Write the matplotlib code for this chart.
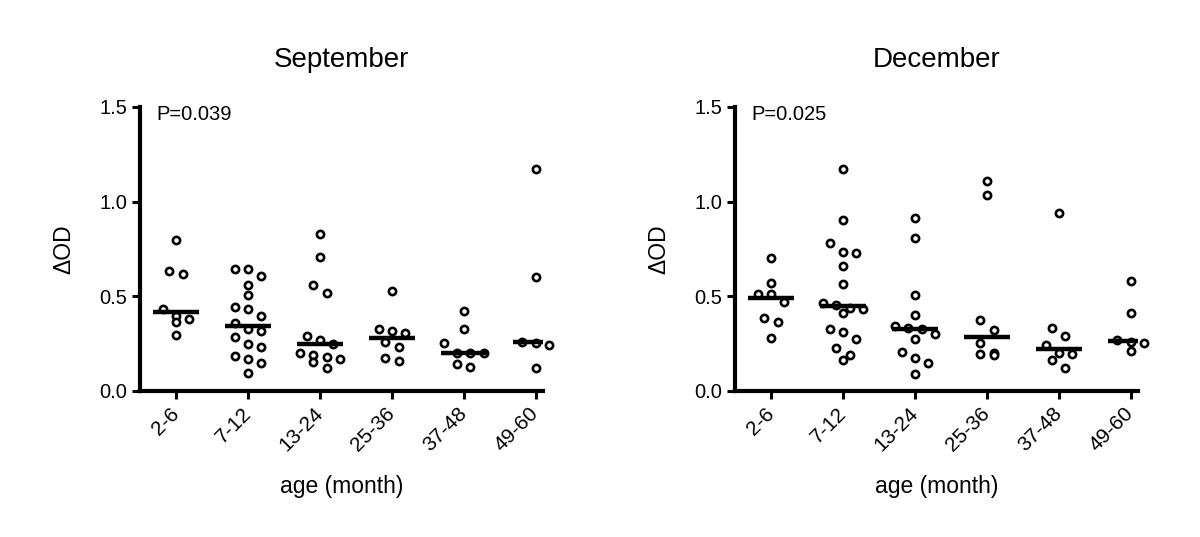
import matplotlib
matplotlib.use("Agg")
from matplotlib import pyplot as plt

import numpy as np

plt.rcParams['font.family'] = ['Liberation Sans', 'DejaVu Sans']

groups = ['2-6', '7-12', '13-24', '25-36', '37-48', '49-60']

# September, delta OD per age group
sep_2_6 = [0.80, 0.635, 0.62, 0.435, 0.395, 0.38, 0.365, 0.295]
sep_7_12 = [0.645, 0.645, 0.605, 0.56, 0.505, 0.445, 0.435, 0.395, 0.36,
            0.325, 0.315, 0.285, 0.25, 0.23, 0.185, 0.17, 0.15, 0.095]
sep_13_24 = [0.83, 0.71, 0.56, 0.515, 0.29, 0.27, 0.247, 0.20, 0.19, 0.18,
             0.17, 0.155, 0.12]
sep_25_36 = [0.53, 0.33, 0.315, 0.305, 0.26, 0.23, 0.175, 0.16]
sep_37_48 = [0.42, 0.33, 0.255, 0.20, 0.20, 0.20, 0.145, 0.125]
sep_49_60 = [1.17, 0.60, 0.26, 0.255, 0.245, 0.12]

# December
dec_2_6 = [0.70, 0.57, 0.51, 0.51, 0.47, 0.385, 0.365, 0.28]
dec_7_12 = [1.17, 0.905, 0.78, 0.735, 0.73, 0.66, 0.565, 0.465, 0.455, 0.44,
            0.435, 0.41, 0.33, 0.31, 0.275, 0.225, 0.19, 0.165]
dec_13_24 = [0.915, 0.81, 0.505, 0.40, 0.345, 0.335, 0.328, 0.30, 0.275,
             0.205, 0.175, 0.15, 0.09]
dec_25_36 = [1.11, 1.035, 0.375, 0.32, 0.255, 0.20, 0.195, 0.19]
dec_37_48 = [0.94, 0.335, 0.29, 0.245, 0.20, 0.195, 0.165, 0.12]
dec_49_60 = [0.58, 0.41, 0.27, 0.26, 0.255, 0.21]

sep_values = [sep_2_6, sep_7_12, sep_13_24, sep_25_36, sep_37_48, sep_49_60]
dec_values = [dec_2_6, dec_7_12, dec_13_24, dec_25_36, dec_37_48, dec_49_60]

titles = ['September', 'December']
p_texts = ['P=0.039', 'P=0.025']


def row_offsets(vals, row_h=0.055, step=0.185, max_n=4):
    # spread points that sit at about the same height side by side
    vals = np.asarray(vals)
    order = np.argsort(-vals, kind='stable')
    rows = []
    row = []
    start = None
    for i in order:
        if start is None or start - vals[i] > row_h or len(row) >= max_n:
            if row:
                rows.append(row)
            row = [i]
            start = vals[i]
        else:
            row.append(i)
    rows.append(row)
    offs = np.zeros(len(vals))
    for row in rows:
        n = len(row)
        for k, i in enumerate(row):
            offs[i] = (k - (n - 1) / 2) * step
    return offs


fig = plt.figure(figsize=(12, 5.37), dpi=100)
lefts = [140 / 1200, 735 / 1200]

for j, data in enumerate([sep_values, dec_values]):
    ax = fig.add_axes([lefts[j], 1 - 391 / 537, 403 / 1200, 284 / 537])

    for i, vals in enumerate(data):
        xs = i + row_offsets(vals)
        ax.plot(xs, vals, linestyle='none', marker='o', markersize=5.2,
                markerfacecolor='white', markeredgecolor='black',
                markeredgewidth=1.9, zorder=3, clip_on=False)
        med = np.median(vals)
        ax.plot([i - 0.32, i + 0.32], [med, med], color='black', lw=3.2,
                solid_capstyle='butt', zorder=4)

    ax.set_xlim(-0.5, 5.1)
    ax.set_ylim(0, 1.5)
    ax.set_xticks(range(len(groups)))
    ax.set_xticklabels(groups, rotation=45, ha='right', va='center',
                       rotation_mode='anchor', fontsize=15)
    ax.set_yticks([0, 0.5, 1.0, 1.5])
    ax.set_yticklabels(['0.0', '0.5', '1.0', '1.5'], fontsize=14.5)

    for s in ['top', 'right']:
        ax.spines[s].set_visible(False)
    for s in ['left', 'bottom']:
        ax.spines[s].set_linewidth(3)
    ax.tick_params(axis='both', width=2.2, length=6, pad=3)
    ax.tick_params(axis='x', pad=8)

    ax.set_title(titles[j], fontsize=20, pad=29)
    ax.set_xlabel('age (month)', fontsize=16.5)
    ax.xaxis.set_label_coords(0.5, -0.296)
    ax.set_ylabel('ΔOD', fontsize=16.5)
    ax.yaxis.set_label_coords(-0.16, 0.5)
    ax.text(-0.27, 1.46, p_texts[j], fontsize=14.5, ha='left', va='center')

fig.savefig('out.png', dpi=100)
